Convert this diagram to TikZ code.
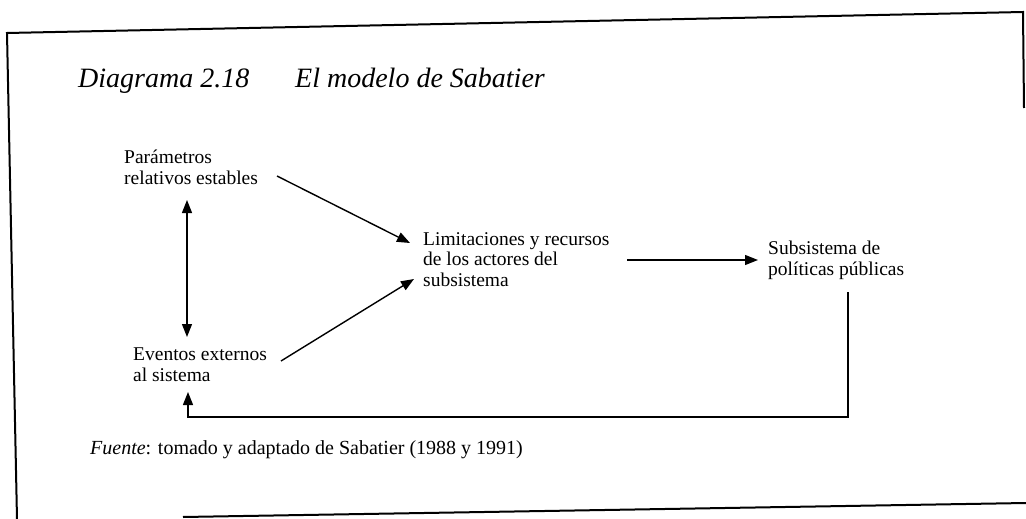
\documentclass[tikz,border=0pt]{standalone}
\usepackage{fontspec}
\setmainfont{Liberation Serif}
\usetikzlibrary{arrows.meta}
\begin{document}
\begin{tikzpicture}[x=1pt,y=-1pt,
  lbl/.style={anchor=north west,inner sep=0pt,align=left,font=\fontsize{19.5}{20.5}\selectfont},
  arr/.style={line width=1.4pt,-{Triangle[length=13pt,width=10pt]}},
  dbl/.style={line width=1.4pt,{Triangle[length=13pt,width=10pt]}-{Triangle[length=13pt,width=10pt]}},
  frame/.style={line width=2pt}]
\useasboundingbox (0,0) rectangle (1026,519);
% frame
\draw[frame] (17,519) -- (7,33) -- (1023,12) -- (1024,108);
\draw[frame] (183,517) -- (1026,503);
% title
\node[anchor=base west,inner sep=0pt,font=\fontsize{28}{30}\selectfont\itshape] (t1) at (78,88) {Diagrama 2.18};
\node[anchor=base west,inner sep=0pt,font=\fontsize{28}{30}\selectfont\itshape] (t2) at (295,88) {El modelo de Sabatier};
% nodes
\node[lbl] (par) at (124,150) {Parámetros\\relativos estables};
\node[lbl] (eve) at (133,348) {Eventos externos\\al sistema};
\node[lbl] (lim) at (423,232) {Limitaciones y recursos\\de los actores del\\subsistema};
\node[lbl] (sub) at (768,241) {Subsistema de\\políticas públicas};
\node[anchor=base west,inner sep=0pt,font=\fontsize{20}{22}\selectfont] (fue) at (90,454) {\textit{Fuente}: tomado y adaptado de Sabatier (1988 y 1991)};
% connectors
\coordinate (pa) at (277,176);
\coordinate (la) at (410,243);
\coordinate (ea) at (281,361);
\coordinate (lb) at (414,279);
\coordinate (l1) at (627,260);
\coordinate (s1) at (758,260);
\coordinate (u1) at (187,200);
\coordinate (u2) at (187,337);
\coordinate (f1) at (848,292);
\coordinate (f2) at (848,417);
\coordinate (f3) at (188,417);
\coordinate (f4) at (188,392);
\draw[arr] (pa) -- (la);
\draw[arr] (ea) -- (lb);
\draw[arr] (l1) -- (s1);
\draw[dbl] (u1) -- (u2);
\draw[arr] (f1) -- (f2) -- (f3) -- (f4);
\end{tikzpicture}
\end{document}
